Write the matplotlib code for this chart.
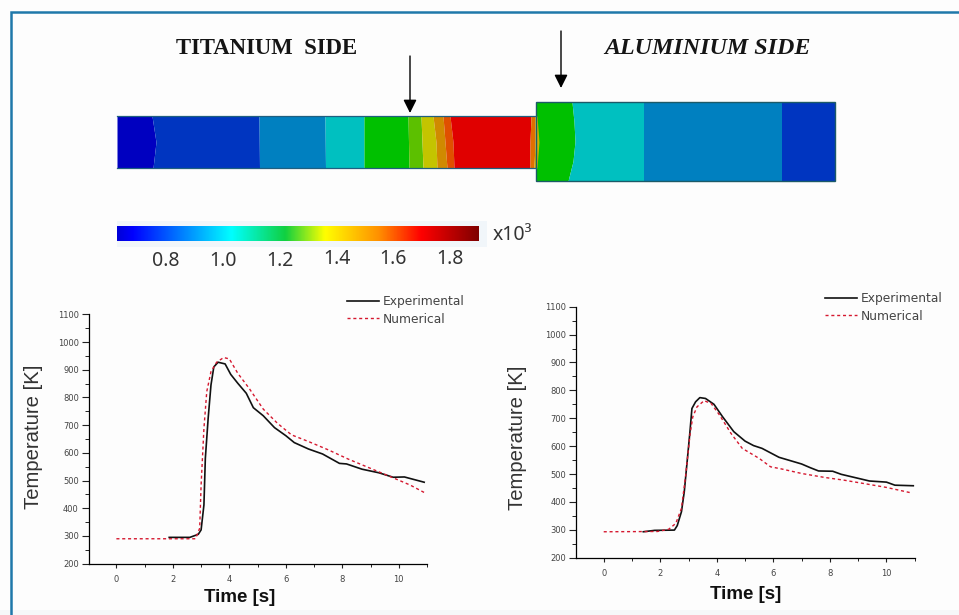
import numpy as np
import matplotlib
matplotlib.use("Agg")
import matplotlib.pyplot as plt
from matplotlib.colors import LinearSegmentedColormap
from matplotlib.patches import Rectangle

W, H = 959, 615

# ---------- curve data ----------
ti_exp_t = [1.87, 2.6, 2.9, 3.0, 3.1, 3.15, 3.25, 3.35, 3.45, 3.6, 3.85, 4.05, 4.3, 4.6, 4.85, 5.2, 5.6, 6.0, 6.3, 6.8, 7.3, 7.9, 8.15, 8.7, 9.3, 9.8, 10.2, 10.9]
ti_exp_T = [295, 295, 306, 322, 412, 580, 725, 845, 910, 927, 921, 883, 851, 815, 763, 734, 691, 662, 637, 614, 596, 562, 560, 541, 528, 512, 513, 494]
ti_num_t = [0, 2.8, 2.95, 3.0, 3.1, 3.2, 3.35, 3.55, 3.8, 4.0, 4.3, 4.7, 5.2, 5.7, 6.2, 6.8, 7.5, 8.2, 9.0, 9.8, 10.4, 10.9]
ti_num_T = [290, 290, 328, 484, 688, 821, 893, 927, 944, 939, 887, 833, 758, 707, 665, 641, 611, 578, 544, 510, 484, 457]

al_exp_t = [1.4, 1.8, 2.5, 2.6, 2.75, 2.85, 2.95, 3.05, 3.12, 3.25, 3.4, 3.6, 3.9, 4.2, 4.6, 5.0, 5.3, 5.6, 6.2, 7.0, 7.3, 7.6, 8.1, 8.4, 8.9, 9.4, 10.0, 10.3, 10.95]
al_exp_T = [293, 298, 299, 315, 365, 437, 544, 652, 735, 759, 774, 771, 750, 706, 652, 618, 602, 592, 560, 536, 523, 511, 510, 499, 487, 475, 471, 460, 458]
al_num_t = [0, 1.9, 2.3, 2.55, 2.75, 2.9, 3.05, 3.15, 3.3, 3.55, 3.8, 4.1, 4.5, 4.9, 5.5, 5.9, 6.3, 7.0, 7.8, 8.5, 9.2, 10.0, 10.9]
al_num_T = [293, 294, 302, 323, 377, 496, 640, 705, 741, 763, 753, 711, 646, 592, 556, 526, 518, 502, 488, 478, 466, 452, 432]

series_names = ["Experimental", "Numerical"]
y_ticks = list(range(200, 1101, 100))
x_ticks = [0, 2, 4, 6, 8, 10]

# ---------- contour field bands (boundary x at top..bottom, fill colour) ----------
ti_edges = [[117, 117], [152, 156, 153], [259, 259.5], [325, 325.5], [364, 364], [408, 409],
            [421, 422, 423], [433, 436, 437], [443, 445, 447], [450, 453, 454],
            [531, 530, 530], [535, 535, 534], [537, 539, 537]]
ti_colors = ["#0000c0", "#0035c0", "#0080c0", "#00c0c0", "#00c000", "#5cc000", "#c4c400",
             "#d08a00", "#e05000", "#e00000", "#e07000", "#c8b400"]
al_edges = [[536, 536], [572, 574, 575, 573, 568], [644, 644], [782, 782], [835, 835]]
al_colors = ["#00c000", "#00c0c0", "#0080c0", "#0035c0"]

cbar_values = [0.627, 0.68, 1.03, 1.22, 1.36, 1.55, 1.70, 1.902]
cbar_colors = ["#0000d8", "#0000ff", "#00ffff", "#10d040", "#ffff00", "#ff9000", "#ff0000", "#800000"]
cbar_labels = [0.8, 1.0, 1.2, 1.4, 1.6, 1.8]
cbar_drop = [20, 20, 20, 18, 18, 18]

# ---------- helpers ----------
fig = plt.figure(figsize=(W / 100, H / 100), dpi=100, facecolor="#fdfdfd")


def px_axes(x0, y0, x1, y1, **kw):
    return fig.add_axes([x0 / W, 1 - y1 / H, (x1 - x0) / W, (y1 - y0) / H], **kw)


# ---------- overlay in image pixels ----------
ov = px_axes(0, 0, W, H)
ov.set_xlim(0, W)
ov.set_ylim(H, 0)
ov.axis("off")

ov.add_patch(Rectangle((0, 610), W, 5, fc="#f6f8f9", ec="none"))
ov.plot([10.5, 10.5, W], [H, 11.5, 11.5], color="#1f78aa", lw=1.8, solid_joinstyle="miter")


def draw_plate(edges, colors, top, bottom):
    ys = np.linspace(top, bottom, 9)
    for i, c in enumerate(colors):
        yl = np.linspace(top, bottom, len(edges[i]))
        yr = np.linspace(top, bottom, len(edges[i + 1]))
        ov.fill_betweenx(ys, np.interp(ys, yl, edges[i]), np.interp(ys, yr, edges[i + 1]),
                         color=c, lw=0, zorder=2)


draw_plate(al_edges, al_colors, 102, 181)
ov.add_patch(Rectangle((536, 102), 299, 79, fc="none", ec="#1c5a68", lw=1.0, zorder=3))
draw_plate(ti_edges, ti_colors, 116, 168)
ov.plot([117, 536], [116, 116], color="#1f5f80", lw=0.9, zorder=3)
ov.plot([117, 536], [168, 168], color="#1f5f80", lw=0.9, zorder=3)

for x, y0, y1 in [(410, 56, 113), (561, 31, 88)]:
    ov.annotate("", xy=(x, y1), xytext=(x, y0),
                arrowprops=dict(arrowstyle="-|>,head_width=0.4,head_length=0.8",
                                color="black", lw=1.0, shrinkA=0, shrinkB=0), zorder=5)

ov.text(267, 49, "TITANIUM  SIDE", family="Liberation Serif", weight="bold", fontsize=16.4,
        ha="center", va="center", color="#151515")
ov.text(707.5, 49, "ALUMINIUM SIDE", family="Liberation Serif", weight="bold", style="italic",
        fontsize=17.3, ha="center", va="center", color="#151515")

ov.add_patch(Rectangle((117, 221), 370, 26, fc="#f1f6fa", ec="none"))
ov.text(493, 235, "x10³", family="Noto Sans", fontsize=14, ha="left", va="center", color="#333333")

# ---------- colour bar ----------
cax = px_axes(117, 226, 479, 241)
span = cbar_values[-1] - cbar_values[0]
cmap = LinearSegmentedColormap.from_list(
    "field", [((v - cbar_values[0]) / span, c) for v, c in zip(cbar_values, cbar_colors)])
cax.imshow(np.linspace(cbar_values[0], cbar_values[-1], 512)[None, :], aspect="auto", cmap=cmap,
           extent=[cbar_values[0], cbar_values[-1], 0, 1])
cax.set_xticks([])
cax.set_yticks([])
for s in cax.spines.values():
    s.set_visible(False)
for v, d in zip(cbar_labels, cbar_drop):
    cax.annotate(f"{v:.1f}", xy=(v, 0), xycoords=cax.get_xaxis_transform(),
                 xytext=(0, -d), textcoords="offset pixels", ha="center", va="center",
                 family="Noto Sans", fontsize=14, color="#333333", annotation_clip=False)


# ---------- line charts ----------
def chart(box, exp_t, exp_T, num_t, num_T, xlabel_pos, ylabel_pos, legend_xy):
    ax = px_axes(*box, facecolor="none")
    ax.plot(exp_t, exp_T, color="#111111", lw=1.2, label=series_names[0])
    ax.plot(num_t, num_T, color="#d5182f", lw=1.0, dashes=(2.2, 2.0), label=series_names[1])
    ax.set_xlim(-0.97, 11)
    ax.set_ylim(200, 1100)
    ax.set_xticks(x_ticks)
    ax.set_xticks(range(0, 12), minor=True)
    ax.set_yticks(y_ticks)
    ax.set_yticks(range(250, 1100, 100), minor=True)
    ax.tick_params(axis="x", which="major", length=3, width=0.8, labelsize=6, pad=5, colors="#222222")
    ax.tick_params(axis="x", which="minor", length=2, width=0.7, colors="#222222")
    ax.tick_params(axis="y", which="major", length=4.8, width=0.8, labelsize=6, pad=2.5, colors="#222222")
    ax.tick_params(axis="y", which="minor", length=2.8, width=0.7, colors="#222222")
    for lab in ax.get_xticklabels() + ax.get_yticklabels():
        lab.set_fontfamily("DejaVu Sans")
        lab.set_color("#444444")
    ax.spines[["top", "right"]].set_visible(False)
    ax.spines[["left", "bottom"]].set_linewidth(0.9)
    bw, bh = box[2] - box[0], box[3] - box[1]
    ax.set_ylabel("Temperature [K]", family="Liberation Sans", fontsize=14.6, color="#333333")
    ax.yaxis.set_label_coords((ylabel_pos[0] - box[0]) / bw, (box[3] - ylabel_pos[1]) / bh)
    ax.set_xlabel("Time [s]", family="Liberation Sans", weight="bold", fontsize=13.5, color="#111111")
    ax.xaxis.set_label_coords((xlabel_pos[0] - box[0]) / bw, (box[3] - xlabel_pos[1]) / bh)
    ax.legend(loc="upper left", bbox_to_anchor=(legend_xy[0] / W, 1 - legend_xy[1] / H),
              bbox_transform=fig.transFigure, frameon=False, borderpad=0, borderaxespad=0,
              handlelength=2.6, handletextpad=0.35, labelspacing=0.38,
              prop=dict(family="DejaVu Sans", size=8.8), labelcolor="#444444")
    return ax


chart((89, 314.3, 427, 563.7), ti_exp_t, ti_exp_T, ti_num_t, ti_num_T, (240, 589), (43, 437), (347, 295))
chart((576.3, 306.7, 914.7, 557.7), al_exp_t, al_exp_T, al_num_t, al_num_T, (745.7, 586), (527, 437.5), (825, 292))

fig.savefig("out.png", dpi=100, facecolor=fig.get_facecolor())
